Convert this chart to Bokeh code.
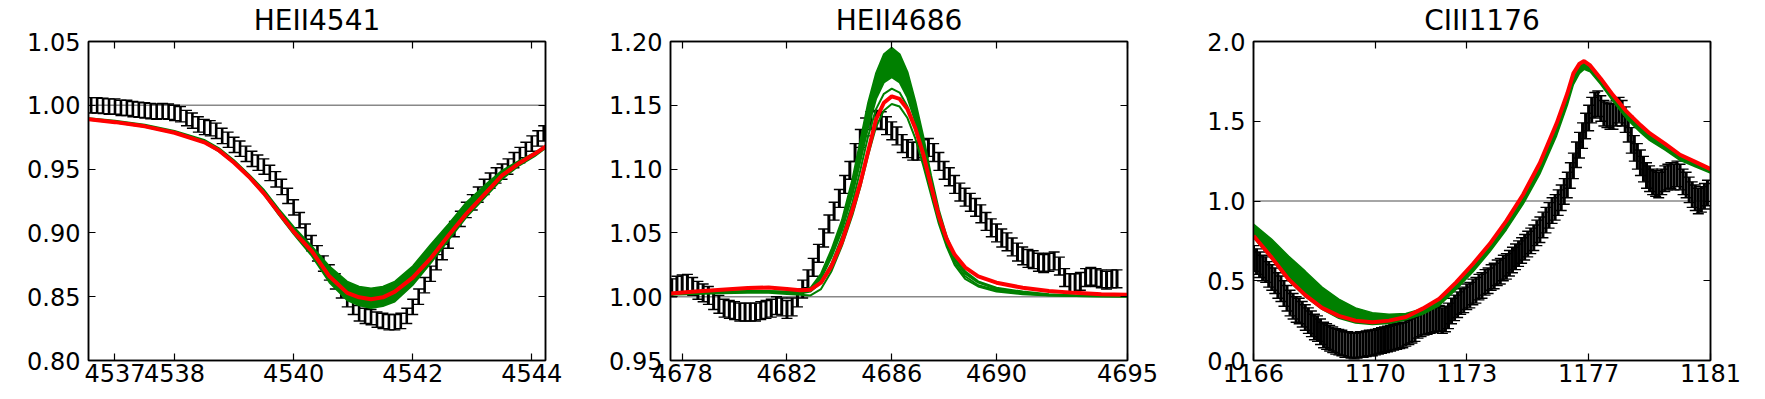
import numpy as np
from bokeh.plotting import figure
from bokeh.layouts import row
from bokeh.models import FixedTicker, PrintfTickFormatter, Span, LinearAxis, Range1d
from bokeh.embed import file_html
from bokeh.resources import INLINE

FONT = "DejaVu Sans"
GREEN = "#008000"
RED = "#ff0000"
CONTINUUM = 1.0

# ---------------- Panel 1: HEII4541 ----------------
title1 = "HEII4541"
x1_ticks = [4537, 4538, 4540, 4542, 4544]
y1_ticks = [0.80, 0.85, 0.90, 0.95, 1.00, 1.05]
x1_obs_start, x1_obs_step = 4536.6, 0.1
y1_obs = [1.000, 1.000, 0.9995, 0.999, 0.999, 0.998, 0.998, 0.997, 0.9965, 0.996,
          0.9955, 0.995, 0.9955, 0.995, 0.994, 0.993, 0.990, 0.988, 0.985, 0.983,
          0.982, 0.980, 0.976, 0.973, 0.969, 0.966, 0.962, 0.958, 0.955, 0.952,
          0.947, 0.942, 0.936, 0.929, 0.920, 0.910, 0.901, 0.892, 0.884, 0.876,
          0.869, 0.862, 0.855, 0.848, 0.842, 0.837, 0.835, 0.834, 0.832, 0.831,
          0.830, 0.830, 0.831, 0.835, 0.842, 0.850, 0.859, 0.868, 0.877, 0.885,
          0.894, 0.903, 0.911, 0.918, 0.924, 0.930, 0.936, 0.941, 0.945, 0.948,
          0.952, 0.957, 0.961, 0.965, 0.970, 0.974, 0.978]
err1 = 0.006
x1_mod = [4536.56, 4537.0, 4537.5, 4538.0, 4538.5, 4538.75, 4539.0, 4539.25, 4539.5, 4539.75,
          4540.0, 4540.3, 4540.6, 4540.9, 4541.1, 4541.3, 4541.5, 4541.7, 4542.0, 4542.3,
          4542.6, 4542.9, 4543.2, 4543.5, 4543.8, 4544.05, 4544.24]
red1 = [0.989, 0.9868, 0.9835, 0.9785, 0.971, 0.9645, 0.955, 0.944, 0.931, 0.916,
        0.901, 0.886, 0.866, 0.853, 0.8495, 0.848, 0.8495, 0.854, 0.865, 0.880,
        0.898, 0.915, 0.930, 0.945, 0.955, 0.962, 0.968]
green1_hi = [0.990, 0.988, 0.985, 0.980, 0.973, 0.9665, 0.957, 0.946, 0.934, 0.919,
             0.905, 0.890, 0.874, 0.862, 0.858, 0.8566, 0.858, 0.862, 0.874, 0.891,
             0.907, 0.924, 0.937, 0.949, 0.957, 0.963, 0.9685]
green1_lo = [0.9885, 0.9863, 0.983, 0.978, 0.9705, 0.9635, 0.9545, 0.943, 0.930, 0.914,
             0.899, 0.882, 0.861, 0.847, 0.843, 0.841, 0.8425, 0.846, 0.859, 0.876,
             0.894, 0.912, 0.927, 0.942, 0.953, 0.960, 0.9665]

# ---------------- Panel 2: HEII4686 ----------------
title2 = "HEII4686"
x2_ticks = [4678, 4682, 4686, 4690, 4695]
y2_ticks = [0.95, 1.00, 1.05, 1.10, 1.15, 1.20]
x2_obs_start, x2_obs_step = 4677.6, 0.2
y2_obs = [1.007, 1.009, 1.010, 1.0105, 1.008, 1.005, 1.003, 1.001, 0.997, 0.994,
          0.991, 0.990, 0.989, 0.988, 0.988, 0.988, 0.988, 0.989, 0.990, 0.991,
          0.993, 0.992, 0.990, 0.992, 0.999, 1.006, 1.014, 1.023, 1.034, 1.046,
          1.057, 1.067, 1.077, 1.088, 1.099, 1.113, 1.124, 1.133, 1.138, 1.139,
          1.138, 1.134, 1.130, 1.126, 1.120, 1.116, 1.114, 1.114, 1.116, 1.117,
          1.113, 1.106, 1.099, 1.094, 1.088, 1.082, 1.078, 1.074, 1.070, 1.065,
          1.059, 1.054, 1.050, 1.046, 1.043, 1.039, 1.035, 1.032, 1.030, 1.029,
          1.027, 1.026, 1.027, 1.028, 1.024, 1.015, 1.011, 1.011, 1.012, 1.015,
          1.016, 1.015, 1.014, 1.013, 1.014, 1.014]
err2 = 0.007
x2_mod = [4677.55, 4678.5, 4679.5, 4680.5, 4681.3, 4682.0, 4682.5, 4682.9, 4683.3, 4683.7,
          4684.1, 4684.5, 4684.8, 4685.1, 4685.4, 4685.7, 4686.0, 4686.3, 4686.6, 4686.9,
          4687.2, 4687.5, 4687.8, 4688.1, 4688.4, 4688.8, 4689.3, 4690.0, 4691.0, 4692.0,
          4693.0, 4694.0, 4695.0]
red2 = [1.0025, 1.004, 1.0055, 1.0068, 1.0072, 1.006, 1.005, 1.0055, 1.011, 1.024,
        1.043, 1.068, 1.089, 1.114, 1.139, 1.152, 1.157, 1.155, 1.147, 1.132,
        1.112, 1.087, 1.063, 1.045, 1.033, 1.023, 1.016, 1.011, 1.007, 1.0045,
        1.003, 1.002, 1.0015]
green2_a = [1.002, 1.003, 1.004, 1.0045, 1.0045, 1.004, 1.004, 1.007, 1.018, 1.037,
            1.060, 1.092, 1.122, 1.152, 1.175, 1.190, 1.195, 1.190, 1.176, 1.153,
            1.126, 1.095, 1.068, 1.047, 1.032, 1.020, 1.012, 1.007, 1.004, 1.002,
            1.001, 1.0005, 1.0003]
green2_b = [1.002, 1.003, 1.0035, 1.004, 1.004, 1.0035, 1.003, 1.005, 1.014, 1.031,
            1.052, 1.080, 1.106, 1.133, 1.155, 1.168, 1.172, 1.168, 1.156, 1.137,
            1.113, 1.087, 1.062, 1.043, 1.029, 1.018, 1.011, 1.006, 1.003, 1.0015,
            1.001, 1.0005, 1.0003]
green2_c = [1.002, 1.0028, 1.0033, 1.0037, 1.0037, 1.003, 1.0025, 1.004, 1.011, 1.026,
            1.047, 1.074, 1.099, 1.126, 1.147, 1.159, 1.163, 1.160, 1.149, 1.131,
            1.108, 1.083, 1.059, 1.041, 1.027, 1.016, 1.009, 1.005, 1.0025, 1.0012,
            1.0006, 1.0003, 1.0002]
green2_d = [1.0015, 1.0022, 1.0028, 1.003, 1.003, 1.0022, 1.0015, 1.001, 1.006, 1.020,
            1.040, 1.064, 1.086, 1.111, 1.133, 1.146, 1.151, 1.149, 1.140, 1.124,
            1.103, 1.080, 1.057, 1.039, 1.025, 1.014, 1.008, 1.004, 1.002, 1.001,
            1.0005, 1.0002, 1.0001]

# ---------------- Panel 3: CIII1176 ----------------
title3 = "CIII1176"
x3_ticks = [1166, 1170, 1173, 1177, 1181]
y3_ticks = [0.0, 0.5, 1.0, 1.5, 2.0]
x3_obs_start, x3_obs_step = 1166.0, 0.1
y3_obs = [0.64, 0.62, 0.60, 0.58, 0.57, 0.54, 0.52, 0.50, 0.47, 0.45,
          0.42, 0.39, 0.36, 0.34, 0.32, 0.31, 0.29, 0.27, 0.25, 0.23,
          0.21, 0.20, 0.18, 0.16, 0.15, 0.14, 0.13, 0.12, 0.115, 0.11,
          0.10, 0.10, 0.095, 0.09, 0.095, 0.10, 0.10, 0.105, 0.11, 0.11,
          0.115, 0.12, 0.125, 0.13, 0.135, 0.14, 0.145, 0.15, 0.155, 0.16,
          0.17, 0.18, 0.19, 0.20, 0.22, 0.23, 0.24, 0.245, 0.25, 0.255,
          0.26, 0.265, 0.25, 0.26, 0.28, 0.31, 0.33, 0.35, 0.37, 0.38,
          0.40, 0.41, 0.43, 0.44, 0.46, 0.47, 0.49, 0.50, 0.52, 0.53,
          0.55, 0.56, 0.58, 0.59, 0.61, 0.63, 0.65, 0.67, 0.69, 0.71,
          0.73, 0.75, 0.77, 0.80, 0.82, 0.85, 0.88, 0.91, 0.94, 0.96,
          0.99, 1.02, 1.06, 1.10, 1.16, 1.22, 1.29, 1.35, 1.41, 1.47,
          1.52, 1.57, 1.60, 1.61, 1.58, 1.55, 1.54, 1.53, 1.53, 1.55,
          1.57, 1.55, 1.51, 1.45, 1.38, 1.33, 1.28, 1.24, 1.20, 1.16,
          1.14, 1.12, 1.11, 1.10, 1.12, 1.14, 1.15, 1.16, 1.15, 1.17,
          1.15, 1.12, 1.10, 1.07, 1.04, 1.02, 1.00, 1.01, 1.03, 1.05]
err3 = 0.08
x3_mod = [1166.0, 1166.6, 1167.15, 1167.7, 1168.25, 1168.8, 1169.35, 1169.9, 1170.45, 1171.0,
          1171.55, 1172.1, 1172.65, 1173.2, 1173.75, 1174.3, 1174.85, 1175.4, 1175.95, 1176.3,
          1176.5, 1176.7, 1176.85, 1177.05, 1177.4, 1177.8, 1178.25, 1178.7, 1179.0, 1179.5,
          1180.0, 1180.5, 1181.0]
red3 = [0.782, 0.645, 0.51, 0.41, 0.33, 0.28, 0.25, 0.24, 0.25, 0.273,
        0.325, 0.387, 0.49, 0.605, 0.73, 0.875, 1.041, 1.238, 1.487, 1.674,
        1.80, 1.861, 1.877, 1.85, 1.767, 1.664, 1.56, 1.476, 1.425, 1.36,
        1.29, 1.245, 1.20]
green3_hi = [0.855, 0.76, 0.655, 0.56, 0.46, 0.385, 0.33, 0.30, 0.29, 0.295,
             0.325, 0.385, 0.485, 0.60, 0.725, 0.87, 1.035, 1.23, 1.48, 1.665,
             1.79, 1.855, 1.872, 1.845, 1.76, 1.655, 1.55, 1.465, 1.415, 1.35,
             1.28, 1.235, 1.19]
green3_lo = [0.77, 0.635, 0.50, 0.40, 0.32, 0.265, 0.235, 0.225, 0.232, 0.255,
             0.29, 0.345, 0.445, 0.555, 0.68, 0.82, 0.98, 1.17, 1.41, 1.60,
             1.73, 1.80, 1.825, 1.81, 1.73, 1.625, 1.515, 1.43, 1.38, 1.32,
             1.255, 1.215, 1.175]

TOP, BOTTOM, FRAME_W, FRAME_H = 39, 35, 457, 321


def style_axis(ax, ticks, fmt, show_labels=True, standoff=6):
    ax.ticker = FixedTicker(ticks=ticks)
    ax.formatter = PrintfTickFormatter(format=fmt)
    ax.major_tick_in = 7
    ax.major_tick_out = 0
    ax.minor_tick_line_color = None
    ax.axis_line_color = "black"
    ax.axis_line_width = 1.5
    ax.major_tick_line_color = "black"
    ax.major_tick_line_width = 1.2
    ax.major_label_text_font = FONT
    if show_labels:
        ax.major_label_text_color = "black"
        ax.major_label_text_font_size = "24px"
        ax.major_label_standoff = standoff
    else:
        ax.major_label_text_color = None
        ax.major_label_text_font_size = "1px"
        ax.major_label_standoff = 0


def make_panel(title, xr, yr, xticks, yticks, xfmt, yfmt, bl, br):
    p = figure(width=bl + FRAME_W + br, height=TOP + FRAME_H + BOTTOM,
               x_range=Range1d(*xr), y_range=Range1d(*yr),
               output_backend="svg", toolbar_location=None,
               min_border_left=bl, min_border_right=br,
               min_border_top=TOP, min_border_bottom=BOTTOM)
    p.grid.visible = False
    p.outline_line_color = "black"
    p.outline_line_width = 1.5
    style_axis(p.xaxis[0], xticks, xfmt, True, 3)
    style_axis(p.yaxis[0], yticks, yfmt, True, 8)
    top = LinearAxis(axis_label=title)
    style_axis(top, xticks, xfmt, False)
    top.axis_label_text_font = FONT
    top.axis_label_text_font_size = "28px"
    top.axis_label_text_font_style = "normal"
    top.axis_label_text_color = "black"
    top.axis_label_standoff = 5
    p.add_layout(top, "above")
    right = LinearAxis()
    style_axis(right, yticks, yfmt, False)
    p.add_layout(right, "right")
    p.add_layout(Span(location=CONTINUUM, dimension="width", line_color="#888888",
                      line_width=1.5, level="underlay"))
    return p


def obs_x(start, step, values):
    return [round(start + step * i, 3) for i in range(len(values))]


def errbars(p, x, y, e, lw=1.5, cap=10):
    lo = [v - e for v in y]
    hi = [v + e for v in y]
    p.segment(x0=x, y0=lo, x1=x, y1=hi, line_color="black", line_width=lw)
    p.scatter(x=x, y=lo, marker="dash", size=cap, line_color="black", line_width=1.4)
    p.scatter(x=x, y=hi, marker="dash", size=cap, line_color="black", line_width=1.4)


# Panel 1
p1 = make_panel(title1, (4536.555, 4544.23), (0.80, 1.05), x1_ticks, y1_ticks, "%d", "%.2f", 88, 45)
errbars(p1, obs_x(x1_obs_start, x1_obs_step, y1_obs), y1_obs, err1, 2.6, 11)
p1.varea(x=x1_mod, y1=green1_lo, y2=green1_hi, fill_color=GREEN)
p1.line(x1_mod, green1_hi, line_color=GREEN, line_width=1.5)
p1.line(x1_mod, green1_lo, line_color=GREEN, line_width=1.5)
p1.line(x1_mod, red1, line_color=RED, line_width=4)

# Panel 2
p2 = make_panel(title2, (4677.554, 4695.0), (0.95, 1.20), x2_ticks, y2_ticks, "%d", "%.2f", 80, 46)
errbars(p2, obs_x(x2_obs_start, x2_obs_step, y2_obs), y2_obs, err2, 3.0, 11)
p2.varea(x=x2_mod, y1=green2_b, y2=green2_a, fill_color=GREEN)
for g in (green2_a, green2_b, green2_c, green2_d):
    p2.line(x2_mod, g, line_color=GREEN, line_width=2)
p2.line(x2_mod, red2, line_color=RED, line_width=4)

# Panel 3
p3 = make_panel(title3, (1166.0, 1181.0), (0.0, 2.0), x3_ticks, y3_ticks, "%d", "%.1f", 80, 40)
errbars(p3, obs_x(x3_obs_start, x3_obs_step, y3_obs), y3_obs, err3, 3.0, 11)
p3.varea(x=x3_mod, y1=green3_lo, y2=green3_hi, fill_color=GREEN)
p3.line(x3_mod, green3_hi, line_color=GREEN, line_width=1.5)
p3.line(x3_mod, green3_lo, line_color=GREEN, line_width=1.5)
p3.line(x3_mod, red3, line_color=RED, line_width=4)

layout = row(p1, p2, p3)
open("out.html", "w").write(file_html(layout, INLINE))
